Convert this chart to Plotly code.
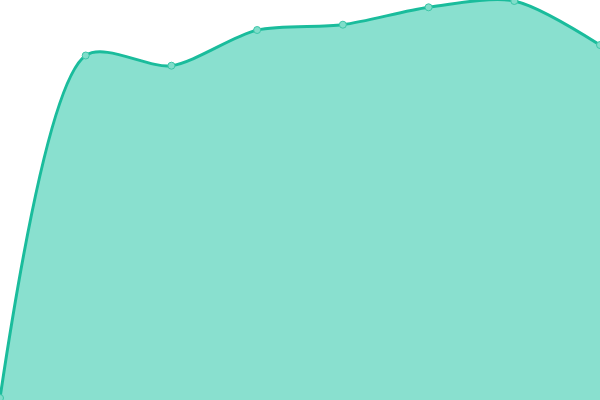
import plotly.graph_objects as go

# values (axis 0..400, no ticks shown)
x_values = [0, 1, 2, 3, 4, 5, 6, 7]
y_values = [2, 344.5, 334.3, 370, 375.3, 392.7, 399, 355]

fig = go.Figure()
fig.add_trace(go.Scatter(
    x=x_values,
    y=y_values,
    mode='lines+markers',
    line=dict(color='#1abc9c', width=3, shape='spline', smoothing=0.8),
    marker=dict(size=7, color='#80ddca', line=dict(color='#3cc6a8', width=1)),
    fill='tozeroy',
    fillcolor='#89e0cf',
    cliponaxis=False,
    hoverinfo='skip',
))

fig.update_layout(
    width=600,
    height=400,
    margin=dict(l=0, r=0, t=0, b=0),
    paper_bgcolor='white',
    plot_bgcolor='white',
    showlegend=False,
    xaxis=dict(visible=False, range=[0, 7], fixedrange=True),
    yaxis=dict(visible=False, range=[0, 400], fixedrange=True),
)

# page body has a default 8px margin, drop it so the chart sits at 0,0
fig.write_html("out.html", config={'displayModeBar': False},
               post_script="document.body.style.margin='0';")
